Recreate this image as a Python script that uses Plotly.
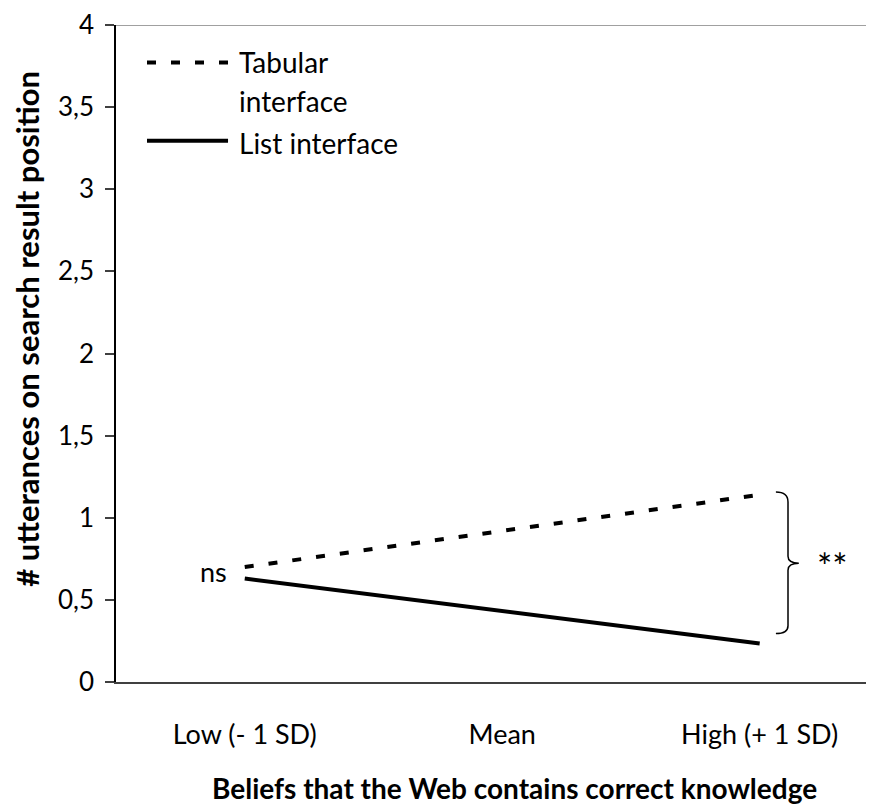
import plotly.graph_objects as go

categories = ["Low (- 1 SD)", "Mean", "High (+ 1 SD)"]
x_pos = [0, 1, 2]
tabular = [0.70, 0.92, 1.14]
list_iface = [0.63, 0.43, 0.235]
y_ticks = [0, 0.5, 1, 1.5, 2, 2.5, 3, 3.5, 4]
y_ticktext = ["0", "0,5", "1", "1,5", "2", "2,5", "3", "3,5", "4"]

FONT = "Lato"

fig = go.Figure()
fig.add_trace(go.Scatter(x=x_pos, y=tabular, mode="lines", name="Tabular interface",
                         line=dict(color="black", width=4, dash="9px,15px"), showlegend=False))
fig.add_trace(go.Scatter(x=x_pos, y=list_iface, mode="lines", name="List interface",
                         line=dict(color="black", width=4), showlegend=False))

# manual legend
fig.add_shape(type="line", xref="paper", yref="paper", x0=0.0409, x1=0.1478, y0=0.9428, y1=0.9428,
              line=dict(color="black", width=4, dash="9px,15px"))
fig.add_shape(type="line", xref="paper", yref="paper", x0=0.0409, x1=0.1478, y0=0.8238, y1=0.8238,
              line=dict(color="black", width=4))
for txt, yy in [("Tabular", 0.943), ("interface", 0.884), ("List interface", 0.8208)]:
    fig.add_annotation(text=txt, xref="paper", yref="paper", x=0.1596, y=yy, xanchor="left",
                       yanchor="middle", showarrow=False, font=dict(family=FONT, size=28, color="black"))

# top border line
fig.add_shape(type="line", xref="paper", yref="y", x0=0, x1=1, y0=4, y1=4,
              line=dict(color="#808080", width=1.5))

# brace
brace = ("M 2.063,1.157 Q 2.110,1.157 2.110,1.096 L 2.110,0.765 Q 2.110,0.723 2.152,0.723 "
         "Q 2.110,0.723 2.110,0.681 L 2.110,0.343 Q 2.110,0.295 2.063,0.295")
fig.add_shape(type="path", path=brace, xref="x", yref="y", line=dict(color="black", width=1.5))

fig.add_annotation(text="ns", xref="paper", yref="paper", x=0.128, y=0.1687, showarrow=False,
                   xanchor="center", yanchor="middle", font=dict(family=FONT, size=27, color="black"))
fig.add_annotation(text="**", xref="paper", yref="paper", x=0.9446, y=0.177, showarrow=False,
                   xanchor="center", yanchor="middle", font=dict(family=FONT, size=36, color="black"))

# axis titles
fig.add_annotation(text="<b>Beliefs that the Web contains correct knowledge</b>", xref="paper",
                   yref="paper", x=0.526, y=-0.161, showarrow=False, xanchor="center",
                   yanchor="middle", font=dict(family=FONT, size=28, color="black"))
fig.add_annotation(text="<b># utterances on search result position</b>", xref="paper",
                   yref="paper", x=-0.1174, y=0.5377, showarrow=False, textangle=-90,
                   xanchor="center", yanchor="middle", font=dict(family=FONT, size=31, color="black"))

fig.update_layout(
    width=866, height=797,
    margin=dict(l=108, r=0, t=10, b=123),
    plot_bgcolor="white", paper_bgcolor="white",
    font=dict(family=FONT, size=28, color="black"),
    xaxis=dict(range=[-0.5, 2.444], tickvals=x_pos, ticktext=categories, showgrid=False,
               zeroline=False, showline=True, linecolor="#404040", linewidth=1.5, ticks="",
               ticklabelstandoff=28, tickfont=dict(family=FONT, size=27, color="black")),
    yaxis=dict(range=[0, 4], tickvals=y_ticks, ticktext=y_ticktext, showgrid=False,
               zeroline=False, showline=True, linecolor="black", linewidth=1.5,
               ticks="outside", ticklen=9, tickcolor="#404040", tickwidth=1.5,
               ticklabelstandoff=6, ticklabeloverflow="allow",
               tickfont=dict(family=FONT, size=26, color="black")),
)

fig.write_html("out.html")
